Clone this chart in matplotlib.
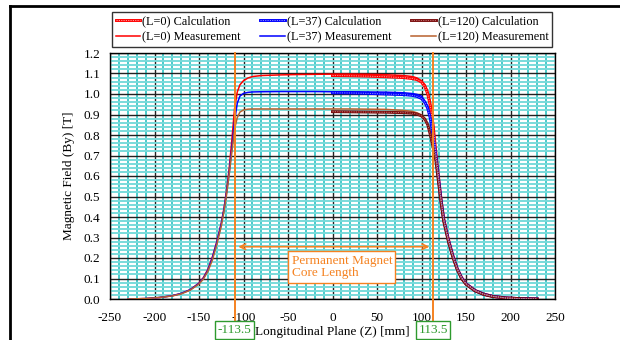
import matplotlib
matplotlib.use("Agg")
import matplotlib.pyplot as plt
from matplotlib.lines import Line2D
from matplotlib.ticker import MultipleLocator
from matplotlib.legend_handler import HandlerTuple
import numpy as np

plt.rcParams['font.family'] = ['Liberation Serif', 'DejaVu Serif']
plt.rcParams['axes.unicode_minus'] = False

# ---------------- data ----------------
Z_MEAS = [-230, -210, -195, -180, -170, -160, -150, -145, -140, -135, -130, -125, -122,
          -119, -116, -113, -110, -107, -104, -100, -95, -90, -80, -60, -40, -20, 0,
          20, 40, 60, 80, 90, 95, 100, 104, 107, 110, 113, 116, 119, 122, 125, 130,
          135, 140, 145, 150, 160, 170, 180, 195, 210, 230]
MEAS_L0 = [0.0, 0.002, 0.007, 0.016, 0.027, 0.045, 0.078, 0.105, 0.145, 0.205, 0.28, 0.37, 0.44,
           0.53, 0.64, 0.78, 0.93, 1.01, 1.045, 1.065, 1.078, 1.085, 1.09, 1.093, 1.095, 1.096, 1.097,
           1.097, 1.096, 1.094, 1.09, 1.085, 1.078, 1.065, 1.045, 1.015, 0.96, 0.86, 0.72, 0.60, 0.48, 0.385, 0.29,
           0.21, 0.145, 0.10, 0.072, 0.04, 0.022, 0.012, 0.004, 0.001, 0.0]
MEAS_L37 = [0.0, 0.002, 0.007, 0.016, 0.027, 0.045, 0.076, 0.102, 0.14, 0.20, 0.275, 0.365, 0.435,
            0.52, 0.62, 0.74, 0.87, 0.955, 0.99, 1.003, 1.008, 1.01, 1.011, 1.012, 1.012, 1.012, 1.011,
            1.011, 1.01, 1.009, 1.006, 1.002, 0.998, 0.99, 0.965, 0.94, 0.89, 0.80, 0.71, 0.59, 0.475, 0.38, 0.285,
            0.207, 0.143, 0.099, 0.071, 0.039, 0.021, 0.011, 0.004, 0.001, 0.0]
MEAS_L120 = [0.0, 0.002, 0.007, 0.015, 0.025, 0.043, 0.073, 0.098, 0.135, 0.19, 0.265, 0.355, 0.425,
             0.51, 0.61, 0.72, 0.83, 0.885, 0.912, 0.922, 0.926, 0.927, 0.927, 0.927, 0.927, 0.927, 0.927,
             0.927, 0.926, 0.925, 0.92, 0.915, 0.908, 0.898, 0.88, 0.85, 0.80, 0.745, 0.69, 0.575, 0.47, 0.375, 0.28,
             0.205, 0.142, 0.098, 0.07, 0.038, 0.021, 0.011, 0.004, 0.001, 0.0]

Z_CALC = [0, 20, 40, 60, 80, 90, 95, 100, 104, 107, 110, 113, 116, 119, 122, 125, 130, 135,
          140, 145, 150, 160, 170, 180, 195, 210, 230]
CALC_L0 = [1.09, 1.089, 1.087, 1.084, 1.08, 1.075, 1.07, 1.058, 1.035, 1.0, 0.94, 0.85, 0.72, 0.6,
           0.485, 0.39, 0.295, 0.215, 0.15, 0.105, 0.075, 0.042, 0.024, 0.013, 0.005, 0.002, 0.0]
CALC_L37 = [1.006, 1.005, 1.003, 1.0, 0.997, 0.993, 0.988, 0.978, 0.958, 0.93, 0.88, 0.795, 0.70, 0.59,
            0.478, 0.385, 0.29, 0.212, 0.148, 0.103, 0.074, 0.041, 0.023, 0.013, 0.005, 0.002, 0.0]
CALC_L120 = [0.914, 0.913, 0.912, 0.911, 0.909, 0.906, 0.902, 0.893, 0.876, 0.85, 0.80, 0.74, 0.68, 0.575,
             0.47, 0.378, 0.285, 0.207, 0.145, 0.10, 0.072, 0.04, 0.022, 0.012, 0.005, 0.002, 0.0]

CORE_LINES = [-110, 113]
CORE_LABELS = ['-113.5', '113.5']
X_TICKS = [-250, -200, -150, -100, -50, 0, 50, 100, 150, 200, 250]
Y_TICKS = [0.0, 0.1, 0.2, 0.3, 0.4, 0.5, 0.6, 0.7, 0.8, 0.9, 1.0, 1.1, 1.2]

# ---------------- figure ----------------
fig = plt.figure(figsize=(6.2, 3.4), dpi=100)
ax = fig.add_axes([110/620, 1-299/340, 445/620, 246/340])

FS = 9.5
LFS = 8.8
RED, BLUE, BROWN, DARKRED = '#ff0000', '#0000ff', '#b8612e', '#7a0c0c'
ORANGE = '#f58220'
GREEN = '#2e9a2e'

ax.set_xlim(-250, 250)
ax.set_ylim(0, 1.2)
ax.set_xticks(X_TICKS)
ax.set_xticklabels([str(v) for v in X_TICKS])
ax.set_yticks(Y_TICKS)
ax.set_yticklabels([f"{v:.1f}" for v in Y_TICKS])
ax.xaxis.set_minor_locator(MultipleLocator(10))
ax.yaxis.set_minor_locator(MultipleLocator(0.02))
ax.grid(which='minor', axis='x', color='#3cc8c8', lw=1.3, zorder=0)
ax.grid(which='minor', axis='y', color='#7adada', lw=1.4, zorder=0)
ax.grid(which='major', color='#222222', lw=1.0, zorder=0.5)
ax.set_axisbelow(True)
ax.tick_params(which='both', length=0, labelsize=FS)
ax.tick_params(axis='x', pad=9.5)
ax.tick_params(axis='y', pad=7)
for s in ax.spines.values():
    s.set_color('black')
    s.set_linewidth(1.0)

ax.set_xlabel('Longitudinal Plane (Z) [mm]', fontsize=FS, labelpad=1.5)
ax.set_ylabel('Magnetic Field (By) [T]', fontsize=FS, labelpad=6)

# measurement lines
l_m0, = ax.plot(Z_MEAS, MEAS_L0, color=RED, lw=1.1, zorder=3)
l_m37, = ax.plot(Z_MEAS, MEAS_L37, color=BLUE, lw=1.1, zorder=3)
l_m120, = ax.plot(Z_MEAS, MEAS_L120, color=BROWN, lw=1.1, zorder=3)

# calculation lines (thick line with light dotted texture)
def calc_line(y, color, light):
    base, = ax.plot(Z_CALC, y, color=color, lw=2.1, zorder=4)
    over, = ax.plot(Z_CALC, y, color=light, lw=0.7, ls=(0, (1.2, 1.2)), zorder=4.1)
    return (base, over)

h_c0 = calc_line(CALC_L0, RED, '#ff9a9a')
h_c37 = calc_line(CALC_L37, BLUE, '#8a8aff')
h_c120 = calc_line(CALC_L120, DARKRED, '#c07070')

# core length lines
for xv, lab in zip(CORE_LINES, CORE_LABELS):
    ax.plot([xv, xv], [1.2, -0.1], color=ORANGE, lw=1.4, clip_on=False, zorder=5)
    ax.annotate(lab, xy=(xv, 0), xycoords='data', xytext=(0, -22.3), textcoords='offset points',
                ha='center', va='center', fontsize=FS, color=GREEN,
                bbox=dict(boxstyle='square,pad=0.2', fc='white', ec=GREEN, lw=1.0),
                annotation_clip=False, zorder=6)

ax.annotate('', xy=(CORE_LINES[0] + 1, 0.255), xytext=(CORE_LINES[1] - 1, 0.255),
            arrowprops=dict(arrowstyle='<->', color=ORANGE, lw=1.2, mutation_scale=10), zorder=5)
ax.text(-46, 0.156, 'Permanent Magnet\nCore Length', fontsize=FS, color=ORANGE,
        ha='left', va='center', linespacing=1.1,
        bbox=dict(boxstyle='square,pad=0.25', fc='white', ec=ORANGE, lw=1.0), zorder=6)

# legend
handles = [h_c0, l_m0, h_c37, l_m37, h_c120, l_m120]
labels = ['(L=0) Calculation', '(L=0) Measurement', '(L=37) Calculation', '(L=37) Measurement',
          '(L=120) Calculation', '(L=120) Measurement']
leg = fig.legend(handles, labels, ncol=3, loc='upper left',
                 bbox_to_anchor=(112/620, 1-48/340, 440/620, 36/340), mode='expand',
                 fontsize=LFS, frameon=True, fancybox=False, edgecolor='black',
                 borderpad=0.3, handlelength=2.0, handletextpad=0.15, columnspacing=1.0,
                 labelspacing=0.3, borderaxespad=0,
                 handler_map={tuple: HandlerTuple(ndivide=1)})
leg.get_frame().set_linewidth(1.0)

# page border
fig.add_artist(Line2D([10/620, 1], [1-6/340, 1-6/340], color='black', lw=2.0, transform=fig.transFigure))
fig.add_artist(Line2D([10/620, 10/620], [0, 1-6/340], color='black', lw=2.0, transform=fig.transFigure))

fig.savefig('out.png', dpi=100)
